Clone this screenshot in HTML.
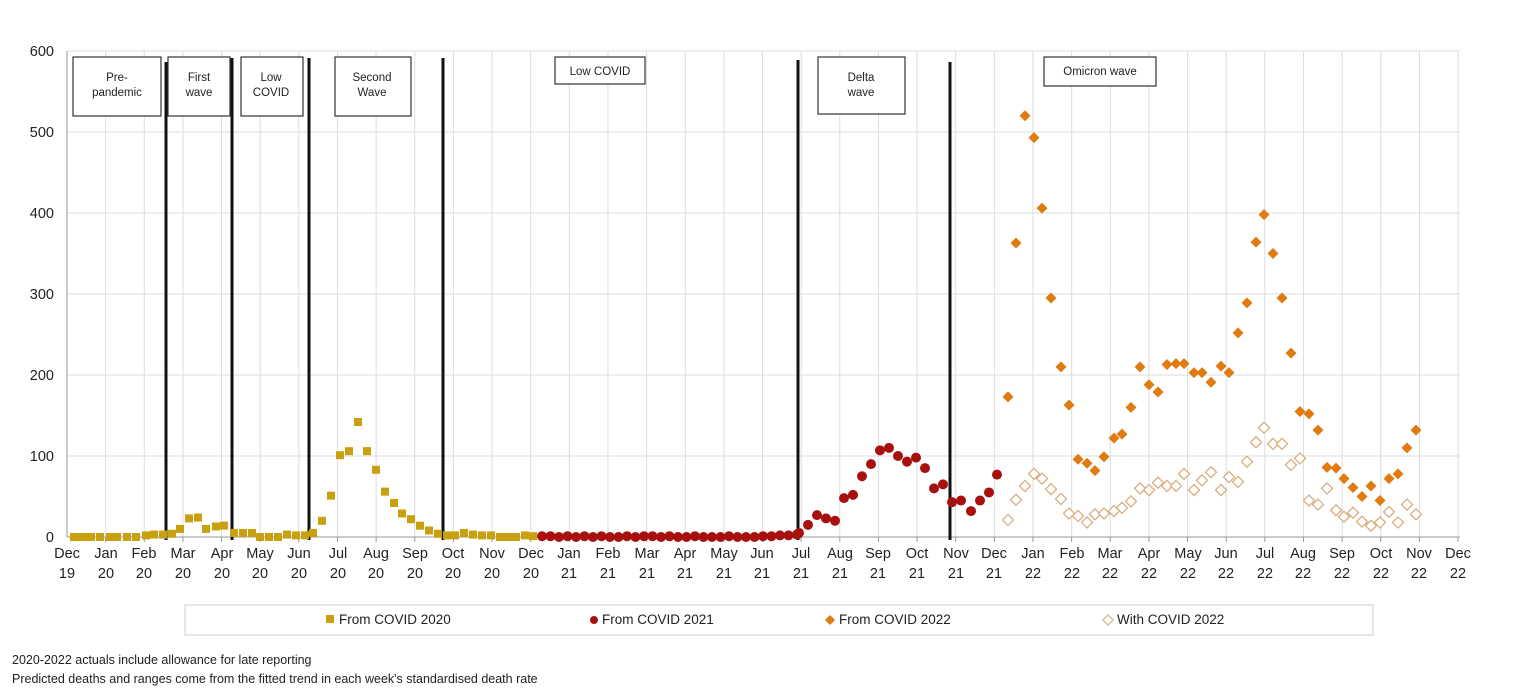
<!DOCTYPE html>
<html><head><meta charset="utf-8"><style>
html,body{margin:0;padding:0;background:#fff;}
svg text{font-family:"Liberation Sans",sans-serif;}
</style></head><body>
<svg id="c" width="1536" height="695" xmlns="http://www.w3.org/2000/svg">
<g id="grid"></g>
<line x1="67" y1="51" x2="67" y2="537" stroke="#999" stroke-width="1"/>
<line x1="67" y1="537" x2="1460" y2="537" stroke="#999" stroke-width="1"/>
<g font-size="14.5" fill="#222" text-anchor="end">
<text x="54" y="542">0</text><text x="54" y="461">100</text><text x="54" y="380">200</text>
<text x="54" y="299">300</text><text x="54" y="218">400</text><text x="54" y="137">500</text><text x="54" y="56">600</text>
</g>
<g id="xl" font-size="14.5" fill="#222" text-anchor="middle">
<text x="67" y="558">Dec</text><text x="67" y="578">19</text>
<text x="106" y="558">Jan</text><text x="106" y="578">20</text>
<text x="144" y="558">Feb</text><text x="144" y="578">20</text>
<text x="183" y="558">Mar</text><text x="183" y="578">20</text>
<text x="222" y="558">Apr</text><text x="222" y="578">20</text>
<text x="260" y="558">May</text><text x="260" y="578">20</text>
<text x="299" y="558">Jun</text><text x="299" y="578">20</text>
<text x="338" y="558">Jul</text><text x="338" y="578">20</text>
<text x="376" y="558">Aug</text><text x="376" y="578">20</text>
<text x="415" y="558">Sep</text><text x="415" y="578">20</text>
<text x="453" y="558">Oct</text><text x="453" y="578">20</text>
<text x="492" y="558">Nov</text><text x="492" y="578">20</text>
<text x="531" y="558">Dec</text><text x="531" y="578">20</text>
<text x="569" y="558">Jan</text><text x="569" y="578">21</text>
<text x="608" y="558">Feb</text><text x="608" y="578">21</text>
<text x="647" y="558">Mar</text><text x="647" y="578">21</text>
<text x="685" y="558">Apr</text><text x="685" y="578">21</text>
<text x="724" y="558">May</text><text x="724" y="578">21</text>
<text x="762" y="558">Jun</text><text x="762" y="578">21</text>
<text x="801" y="558">Jul</text><text x="801" y="578">21</text>
<text x="840" y="558">Aug</text><text x="840" y="578">21</text>
<text x="878" y="558">Sep</text><text x="878" y="578">21</text>
<text x="917" y="558">Oct</text><text x="917" y="578">21</text>
<text x="956" y="558">Nov</text><text x="956" y="578">21</text>
<text x="994" y="558">Dec</text><text x="994" y="578">21</text>
<text x="1033" y="558">Jan</text><text x="1033" y="578">22</text>
<text x="1072" y="558">Feb</text><text x="1072" y="578">22</text>
<text x="1110" y="558">Mar</text><text x="1110" y="578">22</text>
<text x="1149" y="558">Apr</text><text x="1149" y="578">22</text>
<text x="1188" y="558">May</text><text x="1188" y="578">22</text>
<text x="1226" y="558">Jun</text><text x="1226" y="578">22</text>
<text x="1265" y="558">Jul</text><text x="1265" y="578">22</text>
<text x="1303" y="558">Aug</text><text x="1303" y="578">22</text>
<text x="1342" y="558">Sep</text><text x="1342" y="578">22</text>
<text x="1381" y="558">Oct</text><text x="1381" y="578">22</text>
<text x="1419" y="558">Nov</text><text x="1419" y="578">22</text>
<text x="1458" y="558">Dec</text><text x="1458" y="578">22</text>
</g>
<g stroke="#111" stroke-width="3">
<line x1="166" y1="62" x2="166" y2="540"/><line x1="232" y1="58" x2="232" y2="540"/>
<line x1="309" y1="58" x2="309" y2="540"/><line x1="443" y1="58" x2="443" y2="540"/>
<line x1="798" y1="60" x2="798" y2="540"/><line x1="950" y1="62" x2="950" y2="540"/>
</g>
<g fill="#fff" stroke="#333" stroke-width="1.2">
<rect x="73" y="57" width="88" height="59"/><rect x="168" y="57" width="62" height="59"/>
<rect x="241" y="57" width="62" height="59"/><rect x="335" y="57" width="76" height="59"/>
<rect x="555" y="57" width="90" height="27"/><rect x="818" y="57" width="87" height="57"/>
<rect x="1044" y="57" width="112" height="29"/>
</g>
<g font-size="11.5" fill="#222" text-anchor="middle">
<text x="117" y="81">Pre-</text><text x="117" y="96">pandemic</text>
<text x="199" y="81">First</text><text x="199" y="96">wave</text>
<text x="271" y="81">Low</text><text x="271" y="96">COVID</text>
<text x="372" y="81">Second</text><text x="372" y="96">Wave</text>
<text x="600" y="75">Low COVID</text>
<text x="861" y="81">Delta</text><text x="861" y="96">wave</text>
<text x="1100" y="75">Omicron wave</text>
</g>
<g id="pts"></g>
<rect x="185" y="605" width="1188" height="30" fill="#fff" stroke="#ccc"/>
<rect x="326" y="615" width="8" height="8" fill="#C9A010"/>
<text x="339" y="624" font-size="13.5" fill="#222">From COVID 2020</text>
<circle cx="594" cy="620" r="4" fill="#A81010"/>
<text x="602" y="624" font-size="13.5" fill="#222">From COVID 2021</text>
<path d="M830 615 L835 620 L830 625 L825 620Z" fill="#E07B10"/>
<text x="839" y="624" font-size="13.5" fill="#222">From COVID 2022</text>
<path d="M1108 615 L1113 620 L1108 625 L1103 620Z" fill="#fff" stroke="#D9AE80" stroke-width="1.2"/>
<text x="1117" y="624" font-size="13.5" fill="#222">With COVID 2022</text>
<text x="12" y="664" font-size="12.5" fill="#222">2020-2022  actuals include allowance for late reporting</text>
<text x="12" y="683" font-size="12.5" fill="#222">Predicted deaths and ranges come from the fitted trend in each week's standardised death rate</text>
</svg>
<script>
var NS="http://www.w3.org/2000/svg";
function el(p,t,a){var e=document.createElementNS(NS,t);for(var k in a)e.setAttribute(k,a[k]);p.appendChild(e);return e;}
var g=document.getElementById("grid");
for(var v=100;v<=600;v+=100){var y=537-v*0.81;el(g,"line",{x1:67,x2:1460,y1:y,y2:y,stroke:"#ddd","stroke-width":1});}
for(var i=1;i<=36;i++){var x=67+i*38.64;el(g,"line",{x1:x,x2:x,y1:51,y2:537,stroke:"#ddd","stroke-width":1});el(g,"line",{x1:x,x2:x,y1:537,y2:542,stroke:"#999"});}
var p=document.getElementById("pts");
function Y(v){return 537-v*0.81;}
var s20=[[74,0],[82,0],[88,0],[91,0],[100,0],[110,0],[117,0],[127,0],[136,0],[146,2],[154,3],[163,3],[172,4],[180,10],[189,23],[198,24],[206,10],[216,13],[224,14],[234,5],[243,5],[252,5],[260,0],[269,0],[278,0],[287,3],[296,2],[305,2],[313,5],[322,20],[331,51],[340,101],[349,106],[358,142],[367,106],[376,83],[385,56],[394,42],[402,29],[411,22],[420,14],[429,8],[438,4],[447,2],[455,2],[464,5],[473,3],[482,2],[491,2],[500,0],[508,0],[516,0],[525,2],[533,1]];
s20.forEach(function(d){el(p,"rect",{x:d[0]-4,y:Y(d[1])-4,width:8,height:8,fill:"#C9A010"});});
var s21=[];var lowv=[1,1,0,1,0,1,0,1,0,0,1,0,1,1,0,1,0,0,1,0,0,0,1,0,0,0,1,1,2,2,3];
for(var k=0;k<lowv.length;k++)s21.push([542+k*8.5,lowv[k]]);
s21=s21.concat([[799,5],[808,15],[817,27],[826,23],[835,20],[844,48],[853,52],[862,75],[871,90],[880,107],[889,110],[898,100],[907,93],[916,98],[925,85],[934,60],[943,65],[952,43],[961,45],[971,32],[980,45],[989,55],[997,77]]);
s21.forEach(function(d){el(p,"circle",{cx:d[0],cy:Y(d[1]),r:5,fill:"#A81010"});});
var xs=[1008,1016,1025,1034,1042,1051,1061,1069,1078,1087,1095,1104,1114,1122,1131,1140,1149,1158,1167,1176,1184,1194,1202,1211,1221,1229,1238,1247,1256,1264,1273,1282,1291,1300,1309,1318,1327,1336,1344,1353,1362,1371,1380,1389,1398,1407,1416];
var w22=[21,46,63,78,72,59,47,29,26,18,28,29,32,36,44,60,58,67,63,63,78,58,70,80,58,74,68,93,117,135,115,115,89,97,45,40,60,33,25,30,19,14,18,31,18,40,28];
var f22=[173,363,520,493,406,295,210,163,96,91,82,99,122,127,160,210,188,179,213,214,214,203,203,191,211,203,252,289,364,398,350,295,227,155,152,132,86,85,72,61,50,63,45,72,78,110,132];
function dia(x,y,r){return "M"+x+" "+(y-r)+" L"+(x+r)+" "+y+" L"+x+" "+(y+r)+" L"+(x-r)+" "+y+"Z";}
xs.forEach(function(x,i){el(p,"path",{d:dia(x,Y(w22[i]),5.5),fill:"#fff",stroke:"#D9AE80","stroke-width":1.3});});
xs.forEach(function(x,i){el(p,"path",{d:dia(x,Y(f22[i]),5.5),fill:"#E07B10"});});
</script>
</body></html>
